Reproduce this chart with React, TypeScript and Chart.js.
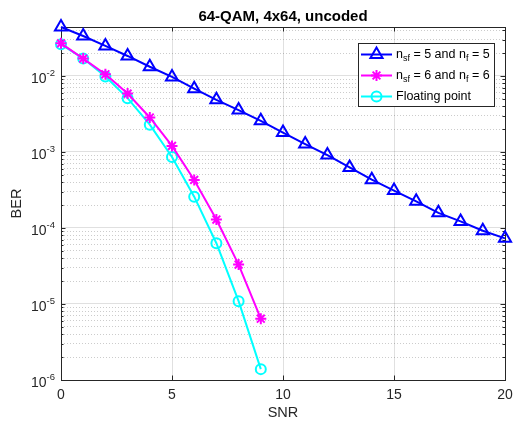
import React, { useEffect, useRef } from 'react';
import { Chart, registerables } from 'chart.js';

Chart.register(...registerables);

// ---------- data ----------
const snrA = [0, 1, 2, 3, 4, 5, 6, 7, 8, 9, 10, 11, 12, 13, 14, 15, 16, 17, 18, 19, 20];
const berA = [0.044, 0.0335, 0.0248, 0.0183, 0.0132, 0.0097, 0.0068, 0.00484, 0.00355, 0.00257, 0.0018,
  0.00127, 0.00091, 0.000626, 0.000432, 0.00031, 0.000224, 0.000158, 0.000122, 0.000092, 0.000073];
const snrB = [0, 1, 2, 3, 4, 5, 6, 7, 8, 9];
const berB = [0.0268, 0.0169, 0.0105, 0.00586, 0.00284, 0.0012, 0.000428, 0.000129, 0.000033, 0.0000064];
const snrC = [0, 1, 2, 3, 4, 5, 6, 7, 8, 9];
const berC = [0.026, 0.017, 0.0098, 0.0051, 0.00228, 0.00086, 0.000258, 0.000063, 0.0000109, 0.00000139];

const xTicks = [0, 5, 10, 15, 20];
const yDecades = [-6, -5, -4, -3, -2];
const yMin = 1e-6;
const yMax = 0.044;
const xMin = 0;
const xMax = 20;

const titleText = '64-QAM, 4x64, uncoded';
const xLabel = 'SNR';
const yLabel = 'BER';

type Seg = { t: string; sub?: boolean };
const legendA: Seg[] = [{ t: 'n' }, { t: 'sf', sub: true }, { t: ' = 5 and n' }, { t: 'f', sub: true }, { t: ' = 5' }];
const legendB: Seg[] = [{ t: 'n' }, { t: 'sf', sub: true }, { t: ' = 6 and n' }, { t: 'f', sub: true }, { t: ' = 6' }];
const legendC: Seg[] = [{ t: 'Floating point' }];

const colorA = '#0000ff';
const colorB = '#ff00ff';
const colorC = '#00ffff';

const FONT = '"Liberation Sans", Arial, Helvetica, sans-serif';
const AX = '#262626';

function mantissa(v: number) {
  return Math.round(v / Math.pow(10, Math.floor(Math.log10(v) + 1e-9)));
}

function drawMarker(ctx: CanvasRenderingContext2D, style: string, x: number, y: number, r: number, color: string) {
  ctx.save();
  ctx.strokeStyle = color;
  ctx.lineWidth = 2;
  ctx.beginPath();
  if (style === 'triangle') {
    const side = r * Math.sqrt(3);
    const h = (side * Math.sqrt(3)) / 2;
    ctx.moveTo(x, y - (2 / 3) * h);
    ctx.lineTo(x + side / 2, y + h / 3);
    ctx.lineTo(x - side / 2, y + h / 3);
    ctx.closePath();
  } else if (style === 'star') {
    for (let i = 0; i < 4; i++) {
      const a = (Math.PI / 4) * i;
      ctx.moveTo(x + Math.cos(a) * r, y + Math.sin(a) * r);
      ctx.lineTo(x - Math.cos(a) * r, y - Math.sin(a) * r);
    }
  } else {
    ctx.arc(x, y, r, 0, Math.PI * 2);
  }
  ctx.stroke();
  ctx.restore();
}

const overlay = {
  id: 'matlabOverlay',
  beforeDatasetsDraw(chart: any) {
    const ctx: CanvasRenderingContext2D = chart.ctx;
    const { left, right, top, bottom } = chart.chartArea;
    const xs = chart.scales.x;
    const ys = chart.scales.y;
    ctx.save();
    ctx.strokeStyle = AX;
    ctx.lineWidth = 1;
    ctx.beginPath();
    for (const t of xTicks) {
      const px = Math.round(xs.getPixelForValue(t)) + 0.5;
      ctx.moveTo(px, bottom);
      ctx.lineTo(px, bottom - 4.5);
      ctx.moveTo(px, top);
      ctx.lineTo(px, top + 4.5);
    }
    for (const e of yDecades) {
      for (let m = 1; m <= 9; m++) {
        const v = m * Math.pow(10, e);
        if (v < yMin || v > yMax) continue;
        const py = Math.round(ys.getPixelForValue(v)) + 0.5;
        const len = m === 1 ? 4.5 : 2.5;
        ctx.moveTo(left, py);
        ctx.lineTo(left + len, py);
        ctx.moveTo(right, py);
        ctx.lineTo(right - len, py);
      }
    }
    ctx.stroke();
    ctx.strokeRect(Math.round(left) + 0.5, Math.round(top) + 0.5, Math.round(right - left), Math.round(bottom - top));
    ctx.restore();
  },
  afterDraw(chart: any) {
    const ctx: CanvasRenderingContext2D = chart.ctx;
    const { left, right, top, bottom } = chart.chartArea;
    const xs = chart.scales.x;
    const ys = chart.scales.y;
    ctx.save();
    ctx.fillStyle = AX;
    // x tick labels
    ctx.font = `14px ${FONT}`;
    ctx.textAlign = 'center';
    ctx.textBaseline = 'middle';
    for (const t of xTicks) {
      ctx.fillText(String(t), xs.getPixelForValue(t), 395);
    }
    // y tick labels 10^e
    for (const e of yDecades) {
      const py = ys.getPixelForValue(Math.pow(10, e));
      const ex = String(e);
      ctx.font = `9.5px ${FONT}`;
      const ew = ctx.measureText(ex).width;
      ctx.textAlign = 'right';
      ctx.textBaseline = 'middle';
      ctx.fillText(ex, left - 6, py - 3);
      ctx.font = `14px ${FONT}`;
      ctx.fillText('10', left - 6 - ew, py + 3);
    }
    ctx.fillStyle = '#000000';
    ctx.font = `bold 15px ${FONT}`;
    ctx.textAlign = 'center';
    ctx.textBaseline = 'middle';
    ctx.fillText(titleText, (left + right) / 2, 17);
    ctx.fillStyle = AX;
    ctx.font = `14.5px ${FONT}`;
    ctx.fillText(xLabel, (left + right) / 2, 413);
    ctx.save();
    ctx.translate(17, (top + bottom) / 2);
    ctx.rotate(-Math.PI / 2);
    ctx.fillText(yLabel, 0, 0);
    ctx.restore();

    // legend
    const bx = 358, by = 43, bw = 136, bh = 63;
    ctx.fillStyle = '#ffffff';
    ctx.fillRect(bx, by, bw, bh);
    ctx.strokeStyle = AX;
    ctx.lineWidth = 1;
    ctx.strokeRect(bx + 0.5, by + 0.5, bw, bh);
    const items: [Seg[], string, string, number][] = [
      [legendA, colorA, 'triangle', 7],
      [legendB, colorB, 'star', 5.5],
      [legendC, colorC, 'circle', 5],
    ];
    const rows = [54.5, 75.5, 96.5];
    items.forEach(([segs, col, st, r], i) => {
      const y = rows[i];
      ctx.strokeStyle = col;
      ctx.lineWidth = 2;
      ctx.beginPath();
      ctx.moveTo(361, y);
      ctx.lineTo(392, y);
      ctx.stroke();
      drawMarker(ctx, st, 376.5, y, r, col);
      let tx = 396;
      ctx.fillStyle = '#000000';
      ctx.textAlign = 'left';
      ctx.textBaseline = 'middle';
      for (const s of segs) {
        if (s.sub) {
          ctx.font = `9px ${FONT}`;
          ctx.fillText(s.t, tx, y + 4);
        } else {
          ctx.font = `12.5px ${FONT}`;
          ctx.fillText(s.t, tx, y);
        }
        tx += ctx.measureText(s.t).width;
      }
    });
    ctx.restore();
  },
};

function toPts(xs: number[], ys: number[]) {
  return xs.map((x, i) => ({ x, y: ys[i] }));
}

function ds(label: string, xs: number[], ys: number[], color: string, style: string, r: number) {
  return {
    label,
    data: toPts(xs, ys),
    borderColor: color,
    backgroundColor: 'rgba(0,0,0,0)',
    borderWidth: 2,
    pointStyle: style,
    pointRadius: r,
    pointBorderWidth: 2,
    pointBorderColor: color,
    pointBackgroundColor: 'rgba(0,0,0,0)',
    clip: false,
  };
}

export default function App() {
  const ref = useRef<HTMLCanvasElement | null>(null);
  useEffect(() => {
    document.body.style.margin = '0';
    const canvas = ref.current;
    if (!canvas) return;
    const chart = new Chart(canvas, {
      type: 'line',
      data: {
        datasets: [
          ds('A', snrA, berA, colorA, 'triangle', 7),
          ds('B', snrB, berB, colorB, 'star', 5.5),
          ds('C', snrC, berC, colorC, 'circle', 5),
        ],
      },
      options: {
        animation: false,
        responsive: false,
        devicePixelRatio: 1,
        layout: { padding: { top: 27, right: 5, left: 0, bottom: 0 } },
        plugins: { legend: { display: false }, title: { display: false }, tooltip: { enabled: false } },
        elements: { line: { tension: 0 } },
        scales: {
          x: {
            type: 'linear',
            min: xMin,
            max: xMax,
            afterBuildTicks: (scale: any) => {
              scale.ticks = xTicks.map((v) => ({ value: v }));
            },
            afterFit: (scale: any) => {
              scale.height = 41;
            },
            border: { display: false },
            grid: { color: 'rgba(0,0,0,0.12)', lineWidth: 1, drawTicks: false },
            ticks: { display: false },
          },
          y: {
            type: 'logarithmic',
            min: yMin,
            max: yMax,
            afterBuildTicks: (scale: any) => {
              const t: any[] = [];
              for (const e of yDecades) {
                for (let m = 1; m <= 9; m++) {
                  const v = m * Math.pow(10, e);
                  if (v >= yMin && v <= yMax) t.push({ value: v, major: m === 1 });
                }
              }
              scale.ticks = t;
            },
            afterFit: (scale: any) => {
              scale.width = 61;
            },
            border: {
              display: false,
              dash: (c: any) => (c.tick && mantissa(c.tick.value) !== 1 ? [1, 2] : []),
            },
            grid: {
              drawTicks: false,
              lineWidth: 1,
              color: (c: any) => (c.tick && mantissa(c.tick.value) !== 1 ? 'rgba(0,0,0,0.2)' : 'rgba(0,0,0,0.12)'),
            },
            ticks: { display: false },
          },
        },
      } as any,
      plugins: [overlay],
    });
    return () => chart.destroy();
  }, []);
  return <canvas ref={ref} width={514} height={421} style={{ display: 'block', width: 514, height: 421 }} />;
}
